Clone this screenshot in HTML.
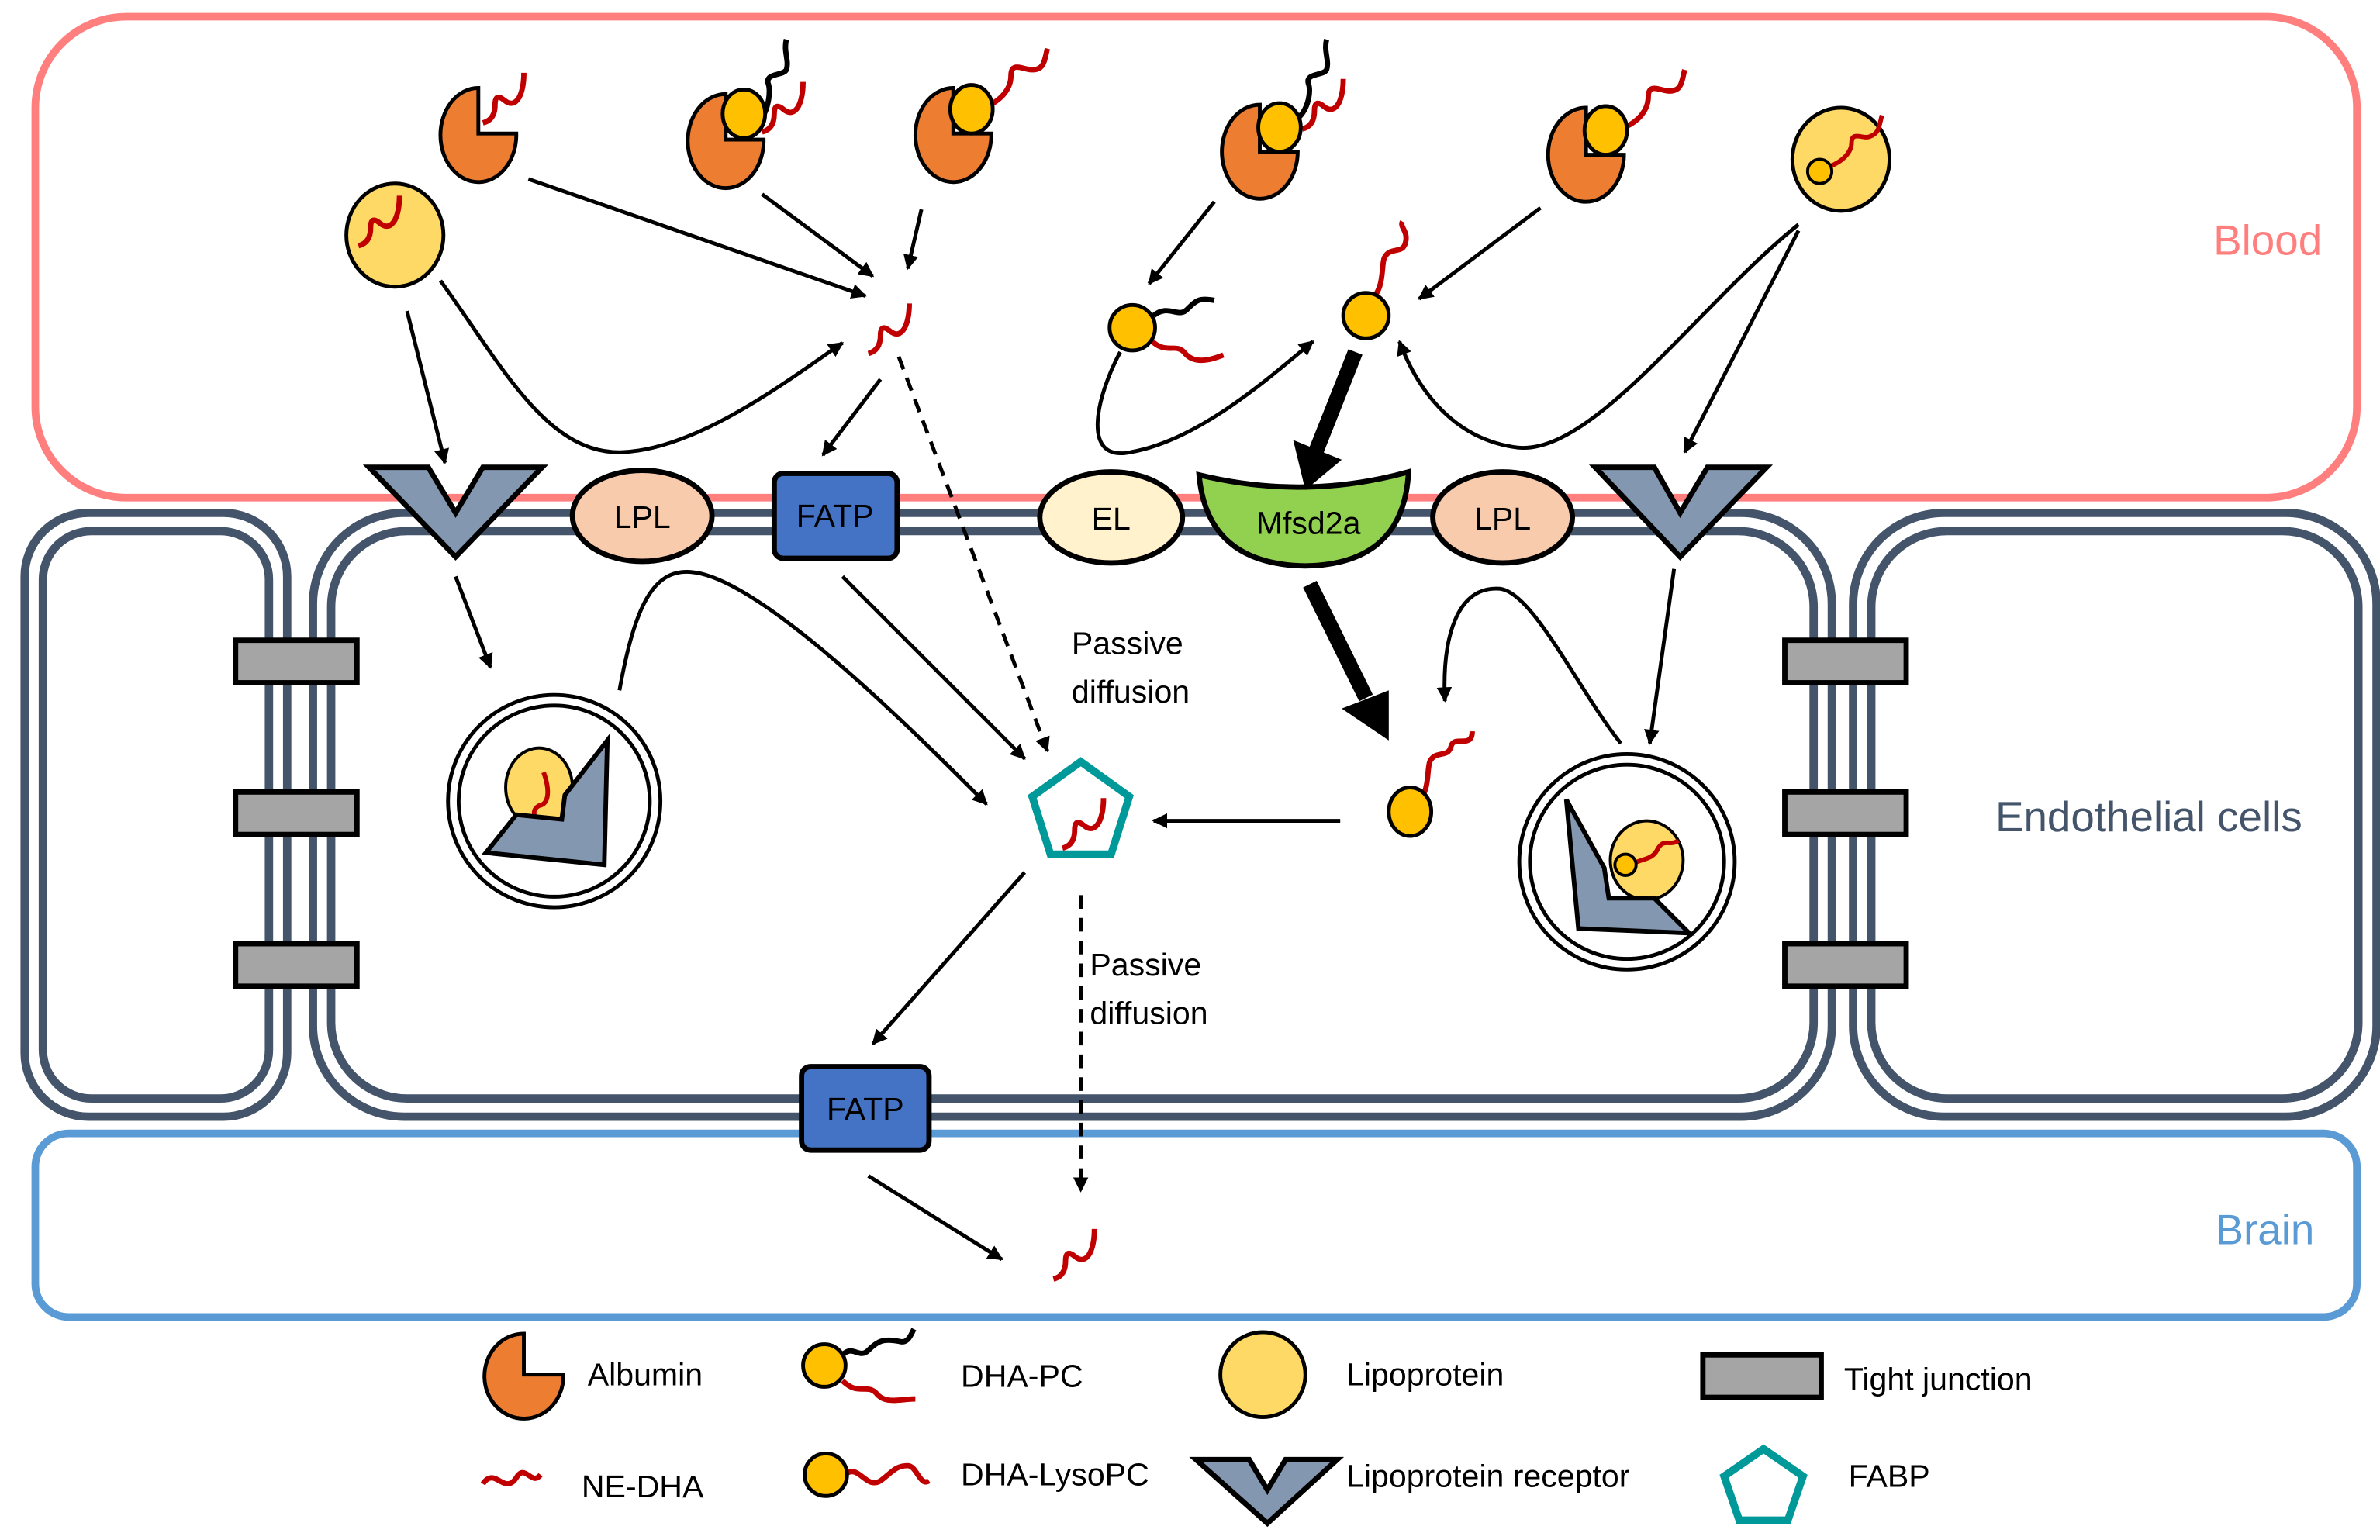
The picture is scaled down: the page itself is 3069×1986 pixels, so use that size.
<!DOCTYPE html>
<html><head><meta charset="utf-8"><style>
html,body{margin:0;padding:0;background:#fff;}
svg{display:block;}
text{font-family:"Liberation Sans",sans-serif;}
</style></head><body>
<svg width="3069" height="1986" viewBox="0 0 1568 1015" xmlns="http://www.w3.org/2000/svg">
<defs>
<marker id="ah" markerWidth="10" markerHeight="10" refX="9" refY="5" orient="auto" markerUnits="userSpaceOnUse" viewBox="0 0 10 10"><path d="M0,0 L10,5 L0,10 Z" fill="#000"/></marker>
<path id="wig" d="M0,19 Q8,17 8,7 Q8,-1 14,4 Q20,9 24,2 Q27,-4 27,-14" fill="none" stroke="#C00000" stroke-width="3.5"/>
</defs>

<rect x="23" y="11" width="1530" height="317" rx="60" fill="none" stroke="#FF7F7F" stroke-width="5"/>
<rect x="23" y="747" width="1530" height="121" rx="22" fill="none" stroke="#5B9BD5" stroke-width="5"/>

<g fill="none" stroke="#44546A" stroke-width="5.5">
<rect x="16" y="338" width="173" height="398" rx="42"/>
<rect x="28" y="350" width="149" height="374" rx="32"/>
<rect x="206" y="338" width="1001" height="398" rx="60"/>
<rect x="218" y="350" width="977" height="374" rx="50"/>
<rect x="1221" y="338" width="345" height="398" rx="60"/>
<rect x="1233" y="350" width="321" height="374" rx="50"/>
</g>
<g fill="#A5A5A5" stroke="#000" stroke-width="3.5">
<rect x="155" y="422" width="80" height="28"/><rect x="155" y="522" width="80" height="28"/><rect x="155" y="622" width="80" height="28"/>
<rect x="1176" y="422" width="80" height="28"/><rect x="1176" y="522" width="80" height="28"/><rect x="1176" y="622" width="80" height="28"/>
</g>

<g stroke="#000" stroke-width="3.5">
<polygon points="243,308 282,308 300,338 318,308 357,308 300,367" fill="#8497B0"/>
<polygon points="1051,308 1090,308 1107,338 1125,308 1164,308 1107,367" fill="#8497B0"/>
<ellipse cx="423" cy="340" rx="46" ry="30" fill="#F8CBAD"/>
<ellipse cx="990" cy="341" rx="46" ry="30" fill="#F8CBAD"/>
<ellipse cx="732" cy="341" rx="47" ry="30" fill="#FFF2CC"/>
<rect x="510" y="312" width="81" height="56" rx="6" fill="#4472C4"/>
<rect x="528" y="703" width="84" height="55" rx="6" fill="#4472C4"/>
<path d="M790,313 Q860,330 928,311 Q925,372 860,373 Q795,372 790,313 Z" fill="#92D050"/>
</g>
<g font-size="21" fill="#000" text-anchor="middle">
<text x="423" y="348">LPL</text><text x="990" y="349">LPL</text><text x="732" y="349">EL</text>
<text x="550" y="347">FATP</text><text x="570" y="738">FATP</text><text x="862" y="352">Mfsd2a</text>
</g>

<g stroke="#000" stroke-width="2.5">
<path d="M315,88 L315,58 A25,31 0 1 0 340,88 Z" fill="#ED7D31"/>
<path d="M478,92 L478,62 A25,31 0 1 0 503,92 Z" fill="#ED7D31"/>
<path d="M628,88 L628,58 A25,31 0 1 0 653,88 Z" fill="#ED7D31"/>
<path d="M830,100 L830,69 A25,31 0 1 0 855,100 Z" fill="#ED7D31"/>
<path d="M1045,102 L1045,71 A25,31 0 1 0 1070,102 Z" fill="#ED7D31"/>
<ellipse cx="260" cy="155" rx="32" ry="34" fill="#FFD966"/>
<ellipse cx="1213" cy="105" rx="32" ry="34" fill="#FFD966"/>
</g>
<use href="#wig" x="318" y="62"/>
<use href="#wig" x="236" y="143"/>
<path d="M500,80 C506,74 508,60 506,55 C504,48 516,50 518,46 C520,40 516,34 518,26" fill="none" stroke="#000" stroke-width="3.5"/>
<use href="#wig" x="502" y="68"/>
<ellipse cx="490" cy="75" rx="14" ry="16" fill="#FFC000" stroke="#000" stroke-width="2.5"/>
<path d="M650,70 C660,66 666,58 666,50 C666,40 674,46 680,46 C688,46 688,40 690,32" fill="none" stroke="#C00000" stroke-width="3.5"/>
<ellipse cx="640" cy="72" rx="14" ry="16" fill="#FFC000" stroke="#000" stroke-width="2.5"/>
<path d="M855,78 C862,72 864,60 862,55 C860,48 872,50 874,46 C876,40 872,34 874,26" fill="none" stroke="#000" stroke-width="3.5"/>
<use href="#wig" x="858" y="66"/>
<ellipse cx="843" cy="84" rx="14" ry="16" fill="#FFC000" stroke="#000" stroke-width="2.5"/>
<path d="M1070,84 C1080,80 1086,72 1086,64 C1086,54 1094,60 1100,60 C1108,60 1108,54 1110,46" fill="none" stroke="#C00000" stroke-width="3.5"/>
<ellipse cx="1058" cy="86" rx="14" ry="16" fill="#FFC000" stroke="#000" stroke-width="2.5"/>
<path d="M1205,110 C1215,106 1220,100 1220,94 C1220,86 1228,92 1232,90 C1238,88 1238,84 1240,76" fill="none" stroke="#C00000" stroke-width="3"/>
<circle cx="1199" cy="113" r="8" fill="#FFC000" stroke="#000" stroke-width="2"/>

<use href="#wig" x="572" y="214"/>
<path d="M760,208 C770,200 776,210 782,204 C788,198 790,196 800,198" fill="none" stroke="#000" stroke-width="3.5"/>
<path d="M758,224 C768,234 774,226 780,232 C786,240 796,238 806,234" fill="none" stroke="#C00000" stroke-width="3.5"/>
<circle cx="746" cy="216" r="15" fill="#FFC000" stroke="#000" stroke-width="2.5"/>
<path d="M905,196 C912,188 910,176 912,170 C916,162 924,168 926,160 C928,152 922,150 924,146" fill="none" stroke="#C00000" stroke-width="3.5"/>
<circle cx="900" cy="208" r="15" fill="#FFC000" stroke="#000" stroke-width="2.5"/>

<g stroke="#000" stroke-width="2.5" fill="none" marker-end="url(#ah)">
<line x1="348" y1="118" x2="570" y2="195"/>
<line x1="502" y1="128" x2="575" y2="182"/>
<line x1="607" y1="138" x2="598" y2="177"/>
<line x1="268" y1="205" x2="293" y2="305"/>
<path d="M290,185 C330,240 360,300 410,298 C460,296 520,250 555,226"/>
<line x1="580" y1="250" x2="542" y2="300"/>
<line x1="800" y1="133" x2="757" y2="187"/>
<path d="M738,232 C722,262 712,305 745,298 C790,290 835,250 865,225"/>
<line x1="1015" y1="137" x2="935" y2="197"/>
<path d="M1185,148 C1120,200 1050,300 1000,295 C960,290 935,260 922,225"/>
<line x1="1185" y1="152" x2="1110" y2="298"/>
</g>
<line x1="893" y1="232" x2="866" y2="300" stroke="#000" stroke-width="10"/>
<polygon points="852,290 884,303 860,323" fill="#000"/>

<g stroke="#000" stroke-width="2.5" fill="none" marker-end="url(#ah)">
<line x1="300" y1="380" x2="323" y2="440"/>
<path d="M408,455 C418,400 430,375 455,377 C500,380 600,480 650,530"/>
<line x1="555" y1="380" x2="675" y2="500"/>
<line x1="883" y1="541" x2="760" y2="541"/>
<path d="M1068,490 C1040,455 1010,390 988,388 C960,386 950,420 952,462"/>
<line x1="1103" y1="375" x2="1087" y2="490"/>
<line x1="675" y1="575" x2="575" y2="688"/>
<line x1="572" y1="775" x2="660" y2="830"/>
</g>
<g stroke="#000" stroke-width="2.5" stroke-dasharray="9,6" fill="none" marker-end="url(#ah)">
<line x1="592" y1="235" x2="690" y2="495"/>
<line x1="712" y1="590" x2="712" y2="785"/>
</g>
<line x1="863" y1="385" x2="900" y2="460" stroke="#000" stroke-width="10"/>
<polygon points="884,467 915,455 915,488" fill="#000"/>

<g fill="none" stroke="#000" stroke-width="2.5">
<circle cx="365" cy="528" r="70"/><circle cx="365" cy="528" r="63"/>
<circle cx="1072" cy="568" r="71"/><circle cx="1072" cy="568" r="64"/>
</g>
<ellipse cx="355" cy="519" rx="22" ry="26" fill="#FFD966" stroke="#000" stroke-width="2"/>
<path d="M358,509 C362,520 362,530 355,531 C348,535 355,540 352,548" fill="none" stroke="#C00000" stroke-width="3"/>
<polygon points="320,562 340,537 370,540 372,524 400,488 398,570" fill="#8497B0" stroke="#000" stroke-width="3"/>
<ellipse cx="1085" cy="567" rx="24" ry="26" fill="#FFD966" stroke="#000" stroke-width="2"/>
<path d="M1072,572 C1080,565 1088,568 1092,560 C1096,552 1100,558 1106,554" fill="none" stroke="#C00000" stroke-width="3"/>
<circle cx="1071" cy="570" r="7" fill="#FFC000" stroke="#000" stroke-width="2"/>
<polygon points="1032,527 1057,572 1060,592 1090,592 1113,615 1040,612" fill="#8497B0" stroke="#000" stroke-width="3"/>

<polygon points="712,502 744,525 732,563 692,563 680,525" fill="#fff" stroke="#009999" stroke-width="5"/>
<use href="#wig" x="700" y="540"/>
<path d="M935,528 C942,520 940,508 942,502 C946,494 954,500 956,492 C958,484 970,494 970,482" fill="none" stroke="#C00000" stroke-width="3.5"/>
<ellipse cx="929" cy="535" rx="14" ry="16" fill="#FFC000" stroke="#000" stroke-width="2.5"/>
<use href="#wig" x="694" y="824"/>

<g font-size="21" fill="#000">
<text x="706" y="431">Passive</text><text x="706" y="463">diffusion</text>
<text x="718" y="643">Passive</text><text x="718" y="675">diffusion</text>
</g>
<text x="1530" y="168" font-size="28" fill="#FF7F7F" text-anchor="end">Blood</text>
<text x="1517" y="548" font-size="28" fill="#44546A" text-anchor="end">Endothelial cells</text>
<text x="1525" y="820" font-size="28" fill="#5B9BD5" text-anchor="end">Brain</text>

<path d="M345,906 L345,879 A26,28 0 1 0 371,906 Z" fill="#ED7D31" stroke="#000" stroke-width="2.5"/>
<path d="M555,893 C562,886 566,896 572,890 C578,884 582,882 592,884 C598,886 600,880 602,876" fill="none" stroke="#000" stroke-width="3.5"/>
<path d="M555,910 C565,920 571,912 577,918 C583,926 593,922 603,922" fill="none" stroke="#C00000" stroke-width="3.5"/>
<circle cx="543" cy="900" r="14" fill="#FFC000" stroke="#000" stroke-width="2.5"/>
<circle cx="832" cy="906" r="28" fill="#FFD966" stroke="#000" stroke-width="2.5"/>
<rect x="1122" y="893" width="78" height="28" fill="#A5A5A5" stroke="#000" stroke-width="3.5"/>
<path d="M318,978 C326,966 332,986 340,974 C346,964 350,980 356,972" fill="none" stroke="#C00000" stroke-width="3.5"/>
<path d="M556,972 C566,964 570,982 580,976 C588,970 590,966 598,966 C604,966 606,980 612,976" fill="none" stroke="#C00000" stroke-width="3.5"/>
<circle cx="544" cy="972" r="14" fill="#FFC000" stroke="#000" stroke-width="2.5"/>
<polygon points="788,962 823,962 835,982 847,962 881,962 835,1004" fill="#8497B0" stroke="#000" stroke-width="3.5"/>
<polygon points="1162,955 1188,973 1178,1002 1146,1002 1136,973" fill="#fff" stroke="#009999" stroke-width="5"/>
<g font-size="21" fill="#000">
<text x="387" y="913">Albumin</text><text x="633" y="914">DHA-PC</text><text x="887" y="913">Lipoprotein</text><text x="1215" y="916">Tight junction</text>
<text x="383" y="987">NE-DHA</text><text x="633" y="979">DHA-LysoPC</text><text x="887" y="980">Lipoprotein receptor</text><text x="1218" y="980">FABP</text>
</g>
</svg>
</body></html>
